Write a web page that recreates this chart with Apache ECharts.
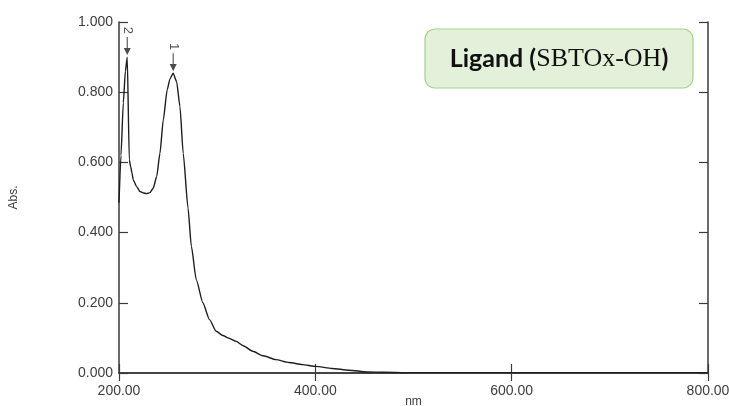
<!DOCTYPE html>
<html>
<head>
<meta charset="utf-8">
<script src="https://cdn.jsdelivr.net/npm/echarts@6/dist/echarts.min.js"></script>
<style>
html,body{margin:0;padding:0;background:#fff;}
#chart{width:729px;height:406px;}
</style>
</head>
<body>
<div id="chart"></div>
<script>
// ---- data ----
const wavelengths = [200, 202, 204.4, 206.5, 208.4, 210.5, 211.9, 213.2, 214.5, 218.0, 221.4, 224.7, 228.2, 231.5, 234.9, 238.4, 241.7, 245.1, 249.1, 251.9, 255.2, 258.7, 262.1, 265.4, 270.3, 273.7, 278.7, 285.4, 292.2, 299, 305.7, 312, 319.3, 327, 336.1, 347, 359.8, 373, 386.8, 400.4, 417, 434.1, 452.7, 470, 491.6, 550, 600, 650, 700, 750, 800];
const absorbance = [0.485, 0.62, 0.77, 0.86, 0.90, 0.607, 0.588, 0.570, 0.550, 0.531, 0.517, 0.513, 0.511, 0.514, 0.527, 0.560, 0.626, 0.721, 0.807, 0.838, 0.854, 0.830, 0.759, 0.626, 0.47, 0.361, 0.266, 0.200, 0.152, 0.119, 0.107, 0.099, 0.090, 0.077, 0.062, 0.049, 0.038, 0.030, 0.024, 0.019, 0.013, 0.008, 0.003, 0.002, 0.001, 0.001, 0.001, 0.001, 0.001, 0.001, 0.001];
const peakLabels = ['1', '2'];
const peakWavelengths = [255.2, 208.4];
const xTicks = [200, 400, 600, 800];
const yTicks = [0, 0.2, 0.4, 0.6, 0.8, 1.0];
const titleMain = 'Ligand (';
const titleCode = 'SBTOx-OH';
const titleEnd = ')';

const lineData = wavelengths.map((w, i) => [w, absorbance[i]]);
const peakData = peakWavelengths.map((w, i) => {
  const idx = wavelengths.indexOf(w);
  return { value: [w, absorbance[idx]], name: peakLabels[i] };
});

const axisColor = '#3a3a3a';
const labelColor = '#3d3d3d';

const chart = echarts.init(document.getElementById('chart'), null, { renderer: 'canvas' });
chart.setOption({
  animation: false,
  backgroundColor: '#ffffff',
  grid: { left: 119, right: 21, top: 22, bottom: 33, containLabel: false, outerBoundsMode: 'none' },
  xAxis: [
    {
      type: 'value', min: xTicks[0], max: xTicks[xTicks.length - 1], interval: 200,
      name: 'nm', nameLocation: 'middle', nameGap: 23, nameMoveOverlap: false,
      nameTextStyle: { fontFamily: 'Liberation Sans', fontSize: 12, color: labelColor },
      axisLine: { lineStyle: { color: axisColor, width: 1.5 } },
      axisTick: { inside: true, length: 9, lineStyle: { color: axisColor, width: 1.2 } },
      axisLabel: { formatter: v => v.toFixed(2), fontFamily: 'Liberation Sans', fontSize: 14, color: labelColor, margin: 11 },
      splitLine: { show: false }
    },
    {
      type: 'value', position: 'top', min: xTicks[0], max: xTicks[xTicks.length - 1], interval: 200,
      axisLine: { show: true, lineStyle: { color: axisColor, width: 1.5 } },
      axisTick: { inside: true, length: 8, lineStyle: { color: axisColor, width: 1.2 } },
      axisLabel: { show: false }, splitLine: { show: false }
    }
  ],
  yAxis: [
    {
      type: 'value', min: yTicks[0], max: yTicks[yTicks.length - 1], interval: 0.2,
      name: 'Abs.', nameLocation: 'middle', nameGap: 99, nameRotate: 90, nameMoveOverlap: false,
      nameTextStyle: { fontFamily: 'Liberation Sans', fontSize: 12, color: labelColor },
      axisLine: { show: true, lineStyle: { color: axisColor, width: 1.5 } },
      axisTick: { inside: true, length: 9, lineStyle: { color: axisColor, width: 1.2 } },
      axisLabel: { formatter: v => v.toFixed(3), fontFamily: 'Liberation Sans', fontSize: 14, color: labelColor, margin: 6 },
      splitLine: { show: false }
    },
    {
      type: 'value', position: 'right', min: yTicks[0], max: yTicks[yTicks.length - 1], interval: 0.2,
      axisLine: { show: true, lineStyle: { color: axisColor, width: 1.5 } },
      axisTick: { inside: true, length: 9, lineStyle: { color: axisColor, width: 1.2 } },
      axisLabel: { show: false }, splitLine: { show: false }
    }
  ],
  series: [
    {
      type: 'line', xAxisIndex: 0, yAxisIndex: 0, data: lineData,
      showSymbol: false, smooth: 0.2, smoothMonotone: 'x',
      lineStyle: { color: '#1e1e1e', width: 1.4 }
    },
    {
      type: 'scatter', xAxisIndex: 0, yAxisIndex: 0, data: peakData,
      symbol: 'path://M4.4,0 L5.6,0 L5.6,13 L4.4,13 Z M1,12 L9,12 L5,20 Z',
      symbolSize: [7, 18], symbolOffset: [0, -11],
      itemStyle: { color: '#1e1e1e' },
      label: {
        show: true, formatter: p => p.name, position: 'top', distance: 3,
        rotate: -90, align: 'right', verticalAlign: 'middle',
        fontFamily: 'Liberation Sans', fontSize: 13, color: '#2a2a2a'
      },
      z: 5
    }
  ],
  graphic: [
    {
      type: 'rect', x: 425, y: 29,
      shape: { x: 0, y: 0, width: 268, height: 59, r: 10 },
      style: { fill: '#e3f0da', stroke: '#a6d18a', lineWidth: 1.2 },
      z: 10
    },
    {
      type: 'text', x: 559, y: 59,
      style: {
        align: 'center', verticalAlign: 'middle',
        rich: {
          b: { fontFamily: 'Lato', fontWeight: 'bold', fontSize: 25, fill: '#111' },
          s: { fontFamily: 'Liberation Serif', fontSize: 26, fill: '#111' }
        },
        text: '{b|' + titleMain + '}{s|' + titleCode + '}{b|' + titleEnd + '}'
      },
      z: 11
    }
  ]
});
</script>
</body>
</html>
